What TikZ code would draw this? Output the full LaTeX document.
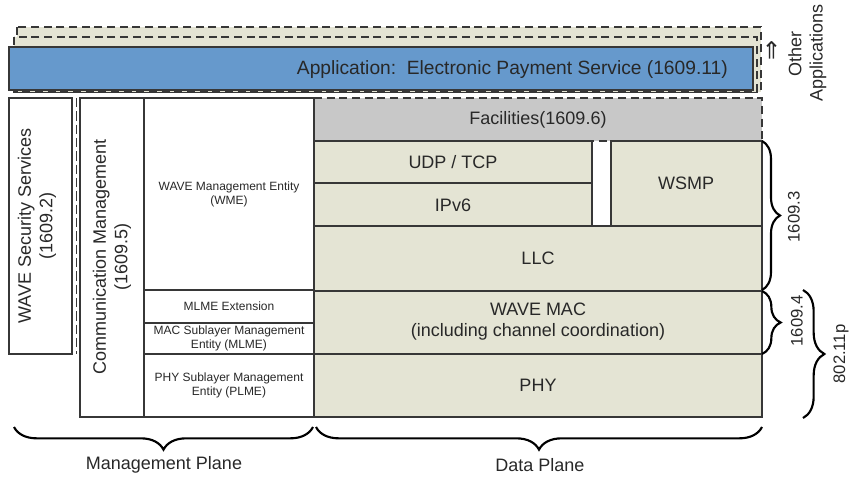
\documentclass[tikz,border=0pt]{standalone}
\usepackage{fontspec}
\setmainfont{Liberation Sans}
\newfontfamily\symfont{DejaVu Sans}
\usetikzlibrary{decorations.pathreplacing}
\definecolor{appblue}{RGB}{102,153,204}
\definecolor{beige}{RGB}{228,228,212}
\definecolor{facgray}{RGB}{200,200,200}
\definecolor{edgec}{RGB}{55,55,55}
\definecolor{txt}{RGB}{40,40,40}
\tikzset{
  box/.style={draw=edgec,line width=1pt},
  dbox/.style={draw=edgec,line width=1.1pt,dash pattern=on 6pt off 3.5pt},
  big/.style={text=txt,font=\fontsize{13.5}{16}\selectfont,align=center,inner sep=0pt},
  mid/.style={text=txt,font=\fontsize{12.5}{15}\selectfont,align=center,inner sep=0pt},
  small/.style={text=txt,font=\fontsize{9}{10.5}\selectfont,align=center,inner sep=0pt},
  brc/.style={draw=black,line width=1.6pt,decorate,decoration={brace,amplitude=#1}},
}
\begin{document}
\begin{tikzpicture}[x=0.75pt,y=-0.75pt]
\useasboundingbox (0,0) rectangle (850,477);
% top application stack
\filldraw[dbox,fill=beige] (17,27) rectangle (761,92);
\filldraw[dbox,fill=beige] (14,37) rectangle (757,92);
\filldraw[box,fill=appblue] (9,47) rectangle (753,90);
\node[text=txt,font=\fontsize{14.4}{17}\selectfont,inner sep=0pt,anchor=east] (app) at (728,70) {Application:\ \ Electronic Payment Service (1609.11)};
\node[text=txt,font=\symfont\fontsize{18}{20}\selectfont,inner sep=0pt,rotate=90] (arr) at (773,50) {⇒};
\node[big,rotate=90] (oth) at (795,54) {Other};
\node[big,rotate=90] (oapp) at (818,53) {Applications};
% management plane
\draw[box,fill=white] (9,98) rectangle (72,354);
\node[big,rotate=90] (sec) at (37,226) {WAVE Security Services\\(1609.2)};
\draw[line width=1.3pt,draw=edgec,dash pattern=on 7pt off 3pt] (76.5,98) -- (76.5,354);
\draw[box,fill=white] (80,98) rectangle (144,417);
\node[big,rotate=90] (cm) at (112,257) {Communication Management\\(1609.5)};
\draw[box,fill=white] (144,98) rectangle (314,290);
\node[small] (wme) at (229,194) {WAVE Management Entity\\(WME)};
\draw[box,fill=white] (144,290) rectangle (314,323);
\node[small] (mlx) at (229,306) {MLME Extension};
\draw[box,fill=white] (144,323) rectangle (314,354);
\node[small] (mlme) at (229,338.5) {MAC Sublayer Management\\Entity (MLME)};
\draw[box,fill=white] (144,354) rectangle (314,417);
\node[small] (plme) at (229,385) {PHY Sublayer Management\\Entity (PLME)};
% data plane
\fill[facgray] (314,98) rectangle (762,141);
\draw[dbox] (314,98) -- (762,98) -- (762,141) -- (314,141);
\draw[box] (314,98) -- (314,141);
\node[big] (fac) at (538,120) {Facilities(1609.6)};
\draw[box,fill=beige] (314,141) rectangle (592,183);
\node[big] (udp) at (453,162) {UDP / TCP};
\draw[box,fill=beige] (314,183) rectangle (592,226);
\node[big] (ip) at (453,205) {IPv6};
\draw[box,fill=beige] (611,141) rectangle (762,226);
\node[big] (wsmp) at (686,183.5) {WSMP};
\draw[box,fill=beige] (314,226) rectangle (762,291);
\node[big] (llc) at (538,258) {LLC};
\draw[box,fill=beige] (314,291) rectangle (762,354);
\node[big] (mac) at (538,321.5) {WAVE MAC\\(including channel coordination)};
\draw[box,fill=beige] (314,354) rectangle (762,417);
\node[big] (phy) at (538,385) {PHY};
% braces
\draw[brc=13.5pt] (762,141) -- (762,290);
\node[mid,rotate=90] (b3) at (794,217) {1609.3};
\draw[brc=14pt] (762,291) -- (762,354);
\node[mid,rotate=90] (b4) at (797,321) {1609.4};
\draw[brc=16pt] (803,290) -- (803,418);
\node[mid,rotate=90] (b80) at (841,354) {802.11p};
\draw[brc=17pt] (313,427) -- (14,427);
\node[big] (mp) at (164,465) {Management Plane};
\draw[brc=17pt] (762,427) -- (316,427);
\node[big] (dp) at (540,465) {Data Plane};
\end{tikzpicture}
\end{document}
